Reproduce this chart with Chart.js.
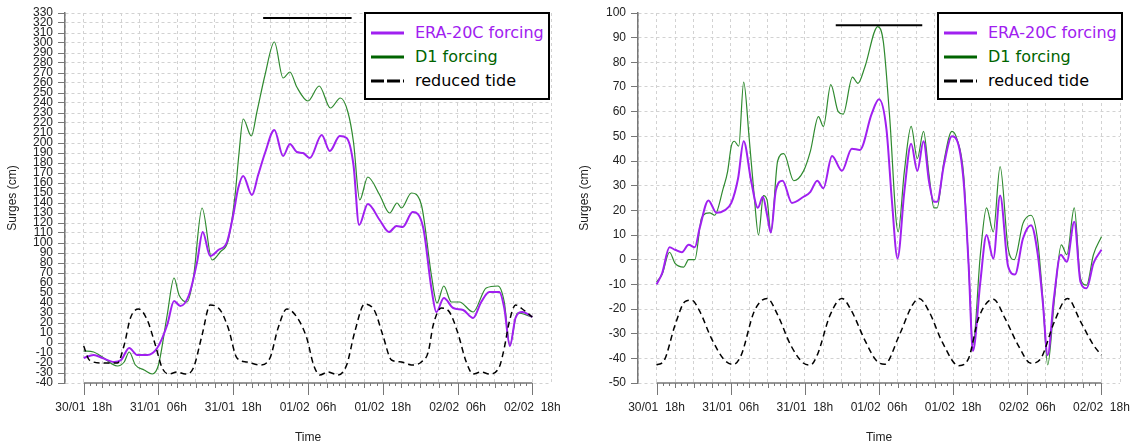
<!DOCTYPE html>
<html>
<head>
<meta charset="utf-8">
<script src="https://cdn.jsdelivr.net/npm/chart.js@4.4.1/dist/chart.umd.min.js"></script>
<style>
  html, body { margin: 0; padding: 0; background: #fff; }
  #wrap { position: relative; width: 1137px; height: 448px; overflow: hidden; }
  canvas { position: absolute; top: 0; }
  #leftChart { left: 0; }
  #rightChart { left: 569px; }
  .legend {
    position: absolute; top: 12px; width: 182px; height: 84px;
    border: 2px solid #000; background: #fff;
    font-family: "DejaVu Sans", sans-serif; font-size: 16px;
  }
  .legend .row { position: absolute; left: 0; width: 182px; height: 20px; line-height: 20px; white-space: nowrap; }
  .legend svg { position: absolute; left: 5px; top: 0; }
  .legend span { position: absolute; left: 49px; top: 0; }
</style>
</head>
<body>
<div id="wrap">
  <canvas id="leftChart" width="569" height="448"></canvas>
  <canvas id="rightChart" width="568" height="448"></canvas>
  <div class="legend" style="left:364px"></div>
  <div class="legend" style="left:937px"></div>
</div>
<script>
// hours after 30/01 18h
const timeLabels = ["30/01  18h", "31/01  06h", "31/01  18h", "01/02  06h", "01/02  18h", "02/02  06h", "02/02  18h"];

// ---- left panel ----
const leftEraHours = [0, 1.6, 3, 4.9, 6, 7.3, 8.6, 10.2, 11.8, 13.4, 14.5, 15.5, 16.9, 18.2, 19.1, 20.3, 21.6, 23, 24, 24.8, 25.6, 27, 28, 29.1, 30.6, 32, 33.1, 34.2, 35.2, 36.3, 38.2, 39.5, 41.1, 42.2, 43.3, 44.2, 45.6, 47.5, 49, 50.2, 51.2, 52.8, 54.5, 55.8, 56.6, 57.8, 59.3, 60.9, 62.5, 63.8, 65.1, 66.7, 67.5, 68.4, 69.3, 70.4, 72];
const leftEraSurge = [-15, -12, -15, -19, -17, -5, -12, -12, -5, 18, 42, 37, 48, 81, 111, 87, 93, 101, 128, 155, 167, 148, 168, 190, 213, 187, 199, 191, 190, 185, 208, 192, 207, 205, 178, 118, 139, 123, 111, 117, 116, 131, 115, 55, 31, 45, 35, 33, 25, 41, 51, 51, 35, -3, 25, 31, 26];

const leftD1Hours = [0, 1.6, 3, 5.4, 6.5, 7.3, 8.3, 9.7, 11, 12, 13.4, 14.5, 15.3, 16.6, 17.6, 19, 20.6, 21.9, 23.2, 24.3, 24.9, 25.6, 26.9, 27.8, 29.1, 30.6, 32, 33.1, 34.2, 36, 37.8, 39.6, 41.2, 42.4, 43.3, 44.3, 45.6, 47.5, 49.1, 50.3, 51, 52.6, 54.2, 55.8, 56.7, 57.8, 59, 60.3, 62.5, 64.6, 66.5, 67.5, 68.4, 69.6, 72];
const leftD1Surge = [-8, -9, -14, -23, -19, -9, -22, -27, -31, -22, 28, 65, 48, 41, 65, 135, 83, 91, 103, 148, 188, 224, 207, 231, 268, 301, 265, 271, 256, 242, 257, 235, 245, 231, 201, 143, 166, 148, 130, 140, 135, 150, 138, 68, 40, 57, 41, 41, 31, 55, 57, 41, -2, 30, 26];

const leftTideHours = [0, 0.9, 3, 5.4, 6.5, 7.5, 8.8, 10.2, 11.5, 12.6, 13.7, 15, 16.3, 17.6, 19, 20.3, 21.9, 23.2, 24.6, 26.2, 28.3, 29.9, 31.2, 32.6, 34.2, 35.8, 36.9, 37.9, 39.2, 40.8, 42.2, 43.5, 45.1, 46.7, 48, 49.4, 51, 52.6, 54.2, 55.3, 56.1, 57.4, 58.7, 60, 61.4, 62.5, 63.8, 65.1, 66.7, 67.5, 68.3, 69.3, 70.6, 72];
const leftTideLevel = [-3, -17, -20, -20, -2, 25, 34, 23, -2, -25, -31, -29, -31, -25, 8, 38, 33, 15, -15, -19, -22, -15, 15, 34, 26, 5, -22, -32, -29, -32, -22, 11, 39, 32, 8, -17, -19, -22, -19, -9, 18, 35, 31, 11, -19, -31, -29, -31, -24, -5, 21, 38, 33, 26];

const leftBarHours = [28.8, 43];
const leftBarLevel = [325, 325];

// ---- right panel ----
const rightEraHours = [0, 0.9, 2.1, 3, 4.1, 5.2, 6.2, 7, 8.4, 9.7, 11, 12.1, 13.2, 14.1, 15.3, 16.4, 17.2, 17.9, 18.5, 19.3, 20.4, 21.9, 23.8, 24.9, 26, 27, 28.4, 30, 31.6, 32.9, 34.8, 36, 37.2, 38.1, 39, 40.1, 41.2, 42.2, 43.2, 44.1, 44.9, 45.4, 46.5, 47.8, 48.6, 49.7, 50.5, 51.2, 52.4, 53.4, 54.5, 55.6, 56.9, 58, 59.3, 60.6, 61.7, 62.5, 63.3, 64.3, 65.4, 66.4, 67.6, 68.6, 69.6, 70.7, 72];
const rightEraSurge = [-10, -5.5, 5, 4, 3, 6, 5, 13, 24, 19, 20, 23, 33, 48, 32, 21, 25.5, 18, 11, 28, 32, 23, 25.5, 27.5, 32, 29, 42, 36, 45, 44.5, 59, 65, 53, 23.5, 0.5, 27.6, 47, 36, 48, 31.6, 23.5, 23.5, 38.4, 50, 48.5, 31.6, -2, -37, -9, 10, 0.5, 26, -2.8, -6, 8.6, 14, 2, -17, -38.7, -15.7, 2, -0.8, 15.4, -8.9, -11.6, -1.5, 4];

const rightD1Hours = [0, 0.9, 2.1, 3, 4.4, 5.2, 6.2, 7.3, 8.6, 9.4, 10.8, 11.5, 12.1, 12.6, 13.3, 14.1, 15, 15.8, 16.5, 17.3, 17.9, 18.5, 19.6, 20.6, 22.2, 23.8, 24.9, 26.2, 27, 28.2, 29.4, 30.2, 31.7, 32.6, 33.7, 35.8, 36.7, 37.7, 39.1, 40.1, 41.2, 42.2, 43.2, 44.1, 44.9, 45.4, 46.5, 47.8, 48.6, 49.7, 50.5, 51.2, 52.4, 53.4, 54.5, 55.6, 56.9, 57.9, 59.3, 60.6, 61.7, 62.5, 63.3, 64.4, 65.5, 66.4, 67.6, 68.6, 69.6, 70.7, 72];
const rightD1Surge = [-9, -6, 3, -1.5, -3, 0, 0, 17, 19, 18, 29, 35.7, 46, 48, 46, 72, 49, 26, 10, 26, 24, 11, 40, 43, 32, 36, 44, 58, 54, 71, 60, 59, 74, 71.5, 78, 94.5, 88.4, 58.7, 11.3, 35.7, 54, 41, 52, 34.3, 21, 21, 39.7, 52, 49, 34.3, -2, -34.6, 2, 21, 11.3, 37.7, 4.6, 0, 14.7, 18, 7.3, -15.7, -42.7, -15.7, 6, 2, 21, -7.6, -10.3, 2, 9.3];

const rightTideHours = [0, 1.2, 3, 4.6, 5.7, 7, 8.9, 11, 12.4, 13.7, 15.8, 17.9, 19.6, 21.7, 23.8, 24.9, 26, 28.1, 30, 31.6, 33.7, 35.6, 36.9, 39.3, 41.4, 42.5, 44.1, 46.2, 48.9, 50.5, 52.1, 54.5, 56.4, 58.5, 60.6, 62.2, 64.4, 66.5, 68.6, 70.7, 72];
const rightTideLevel = [-42.7, -41, -26.5, -17, -16.4, -21, -32, -40.7, -42.5, -38.7, -21, -15.7, -22.4, -34.6, -42, -42.7, -38.7, -22.4, -15.7, -21, -32.6, -41, -42.4, -30.5, -18.4, -15.7, -21, -33.2, -43, -40, -23.8, -16, -23.8, -34.6, -42, -40, -25, -15.7, -25, -34.6, -38.7];

const rightBarHours = [29, 43];
const rightBarLevel = [95, 95];

const ERA_COLOR = "#A020F0";
const D1_COLOR = "#006400";
const D1_LINE = "#2f8a2f";
const TICK_FONT = { family: "Liberation Sans, Arial, sans-serif", size: 12 };
const TEXT = "#222";

function pairs(xs, ys) {
  return xs.map((x, i) => ({ x, y: ys[i] }));
}

// solid time axis from first to last label, hourly minor ticks
const timeAxisPlugin = {
  id: "timeAxis",
  afterDraw(chart) {
    const { ctx, chartArea, scales: { x } } = chart;
    const y0 = chartArea.bottom;
    ctx.save();
    ctx.strokeStyle = "#777";
    ctx.lineWidth = 1.5;
    ctx.beginPath();
    ctx.moveTo(x.getPixelForValue(0), y0);
    ctx.lineTo(x.getPixelForValue(72), y0);
    ctx.stroke();
    ctx.lineWidth = 1;
    ctx.beginPath();
    for (let h = 0; h <= 72; h++) {
      const px = Math.round(x.getPixelForValue(h)) + 0.5;
      const len = h % 12 === 0 ? 12 : (h % 3 === 0 ? 5 : 3);
      ctx.moveTo(px, y0);
      ctx.lineTo(px, y0 + len);
    }
    ctx.stroke();
    ctx.restore();
  }
};

function makeChart(id, opts) {
  return new Chart(document.getElementById(id), {
    type: "line",
    data: {
      datasets: [
        { data: pairs(opts.barHours, opts.barLevel), borderColor: "#000", borderWidth: 2, order: 0 },
        { data: pairs(opts.tideHours, opts.tideLevel), borderColor: "#000", borderWidth: 1.5, borderDash: [6, 4], order: 1 },
        { data: pairs(opts.eraHours, opts.eraSurge), borderColor: ERA_COLOR, borderWidth: 2, order: 2 },
        { data: pairs(opts.d1Hours, opts.d1Surge), borderColor: D1_LINE, borderWidth: 1.2, order: 3 }
      ]
    },
    options: {
      responsive: false,
      animation: false,
      devicePixelRatio: 1,
      layout: { padding: { top: 13, right: opts.padRight, left: 0, bottom: 0 } },
      elements: {
        point: { radius: 0 },
        line: { cubicInterpolationMode: "monotone", fill: false }
      },
      plugins: { legend: { display: false }, tooltip: { enabled: false } },
      scales: {
        x: {
          type: "linear",
          min: -3,
          max: 75,
          afterFit: (s) => { s.height = 65; },
          ticks: {
            stepSize: 3,
            autoSkip: false,
            maxRotation: 0,
            maxTicksLimit: 100,
            padding: 17,
            font: TICK_FONT,
            color: TEXT,
            callback: (v) => (v >= 0 && v <= 72 && v % 12 === 0) ? timeLabels[v / 12] : ""
          },
          grid: { color: "#d2d2d2", lineWidth: 1, drawTicks: false },
          border: { display: false, dash: [3, 3] },
          title: { display: true, text: "Time", font: TICK_FONT, color: TEXT, padding: { top: 0, bottom: 3 } }
        },
        y: {
          min: opts.yMin,
          max: opts.yMax,
          afterFit: (s) => { s.width = opts.axisWidth; },
          ticks: { stepSize: 10, autoSkip: false, maxTicksLimit: 100, padding: 5, font: TICK_FONT, color: TEXT },
          grid: { color: "#d2d2d2", lineWidth: 1, tickLength: 7, tickColor: "#777", tickBorderDash: [] },
          border: { display: true, color: "#777", width: 1.5, dash: [3, 3] },
          title: { display: true, text: "Surges (cm)", font: TICK_FONT, color: TEXT, padding: { top: opts.titlePad, bottom: 0 } }
        }
      }
    },
    plugins: [timeAxisPlugin]
  });
}

makeChart("leftChart", {
  eraHours: leftEraHours, eraSurge: leftEraSurge,
  d1Hours: leftD1Hours, d1Surge: leftD1Surge,
  tideHours: leftTideHours, tideLevel: leftTideLevel,
  barHours: leftBarHours, barLevel: leftBarLevel,
  yMin: -40, yMax: 330, axisWidth: 65, padRight: 18, titlePad: 5
});

makeChart("rightChart", {
  eraHours: rightEraHours, eraSurge: rightEraSurge,
  d1Hours: rightD1Hours, d1Surge: rightD1Surge,
  tideHours: rightTideHours, tideLevel: rightTideLevel,
  barHours: rightBarHours, barLevel: rightBarLevel,
  yMin: -50, yMax: 100, axisWidth: 69, padRight: 12, titlePad: 8
});

// legend boxes
const legendItems = [
  { label: "ERA-20C forcing", color: ERA_COLOR, dash: "" },
  { label: "D1 forcing", color: D1_COLOR, dash: "" },
  { label: "reduced tide", color: "#000", dash: "13 3" }
];
document.querySelectorAll(".legend").forEach((box) => {
  legendItems.forEach((item, i) => {
    const row = document.createElement("div");
    row.className = "row";
    row.style.top = (9 + i * 24) + "px";
    row.innerHTML =
      '<svg width="33" height="20"><line x1="0" y1="10" x2="33" y2="10" stroke="' + item.color +
      '" stroke-width="3"' + (item.dash ? ' stroke-dasharray="' + item.dash + '"' : "") + "/></svg>" +
      '<span style="color:' + item.color + '">' + item.label + "</span>";
    box.appendChild(row);
  });
});
</script>
</body>
</html>
